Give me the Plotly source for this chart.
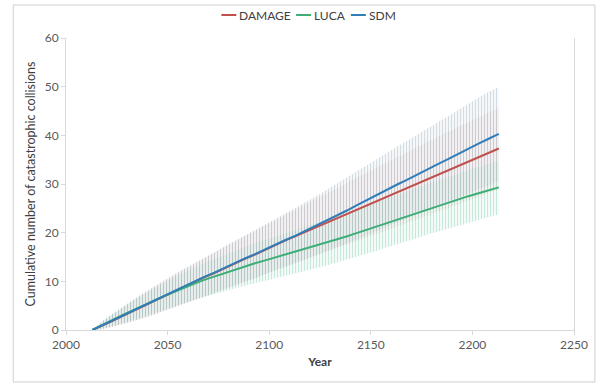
import plotly.graph_objects as go

years = [2013, 2018, 2023, 2028, 2033, 2038, 2043, 2048, 2053, 2058, 2063, 2068, 2073, 2078,
         2083, 2088, 2093, 2098, 2103, 2108, 2113, 2118, 2123, 2128, 2133, 2138, 2143, 2148,
         2153, 2158, 2163, 2168, 2173, 2178, 2183, 2188, 2193, 2198, 2203, 2208, 2213]

damage = [0, 0.9, 1.9, 2.9, 3.9, 4.9, 5.9, 6.9, 7.9, 8.9, 9.8, 10.8, 11.7, 12.7,
          13.6, 14.6, 15.5, 16.5, 17.4, 18.4, 19.3, 20.2, 21.1, 22.0, 22.9, 23.8, 24.8, 25.7,
          26.6, 27.5, 28.4, 29.3, 30.2, 31.1, 32.0, 32.9, 33.8, 34.7, 35.6, 36.5, 37.3]
luca = [0, 1.1, 2.1, 3.1, 4.1, 5.0, 6.0, 6.9, 7.8, 8.7, 9.5, 10.3, 11.0, 11.7,
        12.4, 13.1, 13.7, 14.3, 14.9, 15.5, 16.1, 16.7, 17.3, 17.9, 18.5, 19.2, 19.9, 20.6,
        21.3, 22.0, 22.7, 23.4, 24.1, 24.8, 25.5, 26.1, 26.8, 27.5, 28.1, 28.7, 29.3]
sdm = [0, 1.0, 2.0, 3.0, 4.0, 5.0, 6.0, 7.0, 8.0, 9.0, 9.9, 10.9, 11.8, 12.8,
       13.7, 14.7, 15.6, 16.6, 17.5, 18.5, 19.4, 20.4, 21.4, 22.4, 23.5, 24.5, 25.6, 26.7,
       27.8, 28.8, 29.9, 30.9, 32.0, 33.0, 34.1, 35.1, 36.2, 37.2, 38.3, 39.3, 40.3]

damage_err = [0, 0.8, 1.3, 1.7, 2.1, 2.5, 2.8, 3.0, 3.3, 3.5, 3.7, 3.9, 4.1, 4.3,
              4.5, 4.7, 4.8, 5.0, 5.1, 5.3, 5.4, 5.6, 5.8, 5.9, 6.1, 6.3, 6.5, 6.6,
              6.8, 7.0, 7.1, 7.3, 7.4, 7.6, 7.7, 7.8, 8.0, 8.1, 8.2, 8.3, 8.4]
luca_err = [0, 0.8, 1.3, 1.7, 2.0, 2.3, 2.5, 2.7, 2.9, 3.1, 3.3, 3.5, 3.6, 3.8,
            3.9, 4.0, 4.1, 4.2, 4.3, 4.4, 4.5, 4.5, 4.6, 4.7, 4.7, 4.8, 4.9, 4.9,
            5.0, 5.0, 5.1, 5.1, 5.2, 5.2, 5.3, 5.3, 5.4, 5.4, 5.4, 5.5, 5.5]
sdm_err = [0, 0.8, 1.3, 1.8, 2.2, 2.6, 2.9, 3.1, 3.4, 3.6, 3.8, 4.0, 4.2, 4.4,
           4.6, 4.8, 5.0, 5.1, 5.3, 5.5, 5.7, 5.9, 6.1, 6.3, 6.5, 6.8, 7.0, 7.2,
           7.4, 7.6, 7.8, 8.0, 8.2, 8.4, 8.6, 8.8, 9.0, 9.2, 9.4, 9.6, 9.7]

series = [
    ("DAMAGE", damage, damage_err, "#C0504D", "rgba(215,165,165,0.38)", "rgba(235,205,205,0.10)"),
    ("LUCA", luca, luca_err, "#3DAE78", "rgba(140,210,178,0.45)", "rgba(200,232,216,0.12)"),
    ("SDM", sdm, sdm_err, "#2F7DB9", "rgba(165,183,196,0.45)", "rgba(210,220,228,0.12)"),
]

fig = go.Figure()

# error bands (dense vertical bars look)
for name, vals, errs, col, fg, bg in series:
    upper = [v + e for v, e in zip(vals, errs)]
    lower = [max(v - e, 0) for v, e in zip(vals, errs)]
    fig.add_trace(go.Scatter(x=years, y=upper, mode="lines", line=dict(width=0),
                             showlegend=False, hoverinfo="skip"))
    fig.add_trace(go.Scatter(x=years, y=lower, mode="lines", line=dict(width=0),
                             fill="tonexty", fillcolor=bg,
                             fillpattern=dict(shape="|", size=3, solidity=0.4,
                                              fgcolor=fg, bgcolor=bg, fillmode="replace"),
                             showlegend=False, hoverinfo="skip"))

for name, vals, errs, col, fg, bg in series:
    fig.add_trace(go.Scatter(x=years, y=vals, mode="lines", name=name,
                             line=dict(color=col, width=2), showlegend=False))

# manual legend
legend_items = [("DAMAGE", "#C0504D", 222, 237), ("LUCA", "#3DAE78", 297, 312), ("SDM", "#2F7DB9", 352, 367)]
L, R, T, B = 66, 24, 38, 55
W, H = 600, 385
pw, ph = W - L - R, H - T - B

def px(xp):
    return (xp - L) / pw

def py(yp):
    return (H - B - yp) / ph

shapes = []
annotations = []
for name, col, x0, x1 in legend_items:
    shapes.append(dict(type="line", xref="paper", yref="paper", x0=px(x0), x1=px(x1),
                       y0=py(15), y1=py(15), line=dict(color=col, width=2)))
    annotations.append(dict(text=name, xref="paper", yref="paper", x=px(x1 + 1), y=py(15),
                            xanchor="left", yanchor="middle", showarrow=False,
                            font=dict(family="Lato, sans-serif", size=12, color="#404040")))

# outer frame
shapes.append(dict(type="rect", xref="paper", yref="paper", x0=px(13), x1=px(597),
                   y0=py(382), y1=py(5), line=dict(color="#cfcfcf", width=1)))

fig.update_layout(
    width=W, height=H,
    margin=dict(l=L, r=R, t=T, b=B),
    paper_bgcolor="white", plot_bgcolor="white",
    font=dict(family="Lato, sans-serif", size=12, color="#595959"),
    shapes=shapes, annotations=annotations,
    showlegend=False,
    xaxis=dict(range=[2000, 2250], dtick=50, tick0=2000, showgrid=False, zeroline=False,
               showline=True, linecolor="#d9d9d9", linewidth=1,
               ticks="outside", ticklen=4, tickcolor="#d9d9d9",
               tickfont=dict(size=12, color="#595959"),
               title=dict(text="Year", font=dict(size=12, color="#404040", weight="bold"), standoff=6)),
    yaxis=dict(range=[0, 60], dtick=10, showgrid=False, zeroline=False,
               showline=True, linecolor="#d9d9d9", linewidth=1, mirror=True,
               ticks="outside", ticklen=4, tickcolor="#d9d9d9",
               tickfont=dict(size=12, color="#595959"),
               title=dict(text="Cumulative number of catastrophic collisions",
                          font=dict(size=12.5, color="#404040"), standoff=6)),
)

fig.write_html("out.html")
